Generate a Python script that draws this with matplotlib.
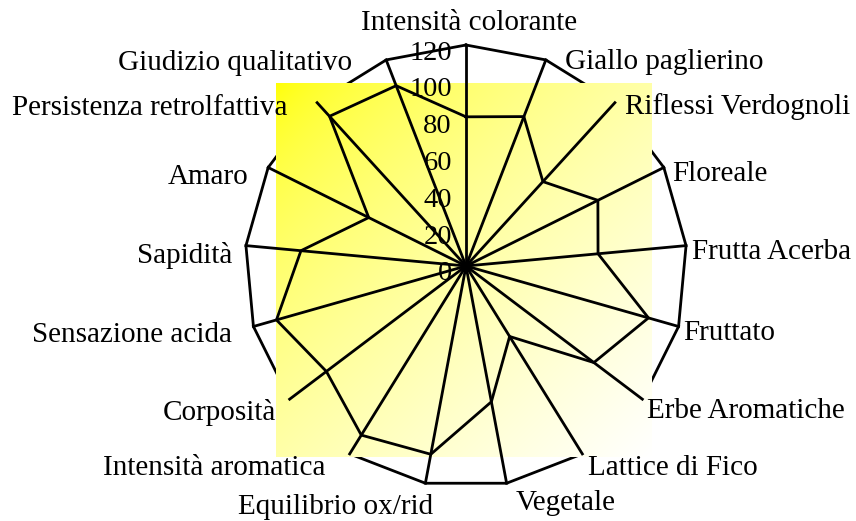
import numpy as np
import matplotlib
matplotlib.use("Agg")
import matplotlib.pyplot as plt
from matplotlib.image import BboxImage
from matplotlib.transforms import Bbox, TransformedBbox

plt.rcParams['font.family'] = ['Liberation Serif', 'DejaVu Serif']

# Categories clockwise from the top
categories = ["Intensità colorante", "Giallo paglierino", "Riflessi Verdognoli",
              "Floreale", "Frutta Acerba", "Fruttato", "Erbe Aromatiche",
              "Lattice di Fico", "Vegetale", "Equilibrio ox/rid",
              "Intensità aromatica", "Corposità", "Sensazione acida",
              "Sapidità", "Amaro", "Persistenza retrolfattiva",
              "Giudizio qualitativo"]
values = [81, 87, 62, 80, 72, 103, 87, 45, 75, 104, 108, 95, 107, 90, 59, 110, 105]
r_ticks = [0, 20, 40, 60, 80, 100, 120]
r_max = 120

# label offsets in pixels (dx, dy) from the outer vertex, and alignment
label_layout = [(3, 22, 'center'), (19, -2, 'left'), (10, -4, 'left'), (8, -7, 'left'),
                (6, -6, 'left'), (5, -7, 'left'), (5, -12, 'left'), (6, -14, 'left'),
                (9, -20, 'left'), (8, -24, 'right'), (-24, -14, 'right'),
                (-14, -13, 'right'), (-21, -9, 'right'), (-14, -10, 'right'),
                (-20, -10, 'right'), (-30, -5, 'right'), (-34, -3, 'right')]

n = len(categories)
angles = np.arange(n) * 2 * np.pi / n
closed_angles = np.append(angles, angles[0])

fig = plt.figure(figsize=(8.56, 5.21), dpi=100)
ax = fig.add_axes([245 / 856, 34 / 521, 442 / 856, 442 / 521], projection='polar')
ax.set_theta_zero_location('N')
ax.set_theta_direction(-1)
ax.patch.set_visible(False)
ax.spines['polar'].set_visible(False)
ax.grid(False)
ax.set_xticks([])
ax.set_yticks([])

# outer frame polygon (sits under the gradient box)
ax.plot(closed_angles, [r_max] * (n + 1), color='black', lw=2, zorder=1, clip_on=False)

# yellow -> white diagonal gradient box
gx, gy = np.meshgrid(np.linspace(0, 1, 300), np.linspace(0, 1, 300))
t = np.clip((gx + gy) / 2, 0, 1) ** 0.6
grad = np.dstack([np.ones_like(t), np.ones_like(t), t])
box = TransformedBbox(Bbox([[0.07, 0.068], [0.919, 0.914]]), ax.transAxes)
img = BboxImage(box, interpolation='bilinear', zorder=2)
img.set_data(grad)
ax.add_artist(img)
img.set_clip_path(None)
img.set_clip_on(False)

# spokes
for a in angles:
    ax.plot([a, a], [0, r_max], color='black', lw=2, zorder=3, clip_on=False)

# data series
ax.plot(closed_angles, values + values[:1], color='black', lw=2, zorder=4, clip_on=False)
ax.set_ylim(0, r_max)

# radial tick labels along the top spoke
for v in r_ticks:
    ax.annotate(str(v), xy=(0, v), xytext=(-14, -8), textcoords='offset pixels',
                ha='right', va='center', fontsize=20.5, zorder=5)

# category labels
for a, name, (dx, dy, ha) in zip(angles, categories, label_layout):
    ax.annotate(name, xy=(a, r_max), xytext=(dx, dy), textcoords='offset pixels',
                ha=ha, va='center', fontsize=21, zorder=5)

fig.savefig('out.png', dpi=100)
